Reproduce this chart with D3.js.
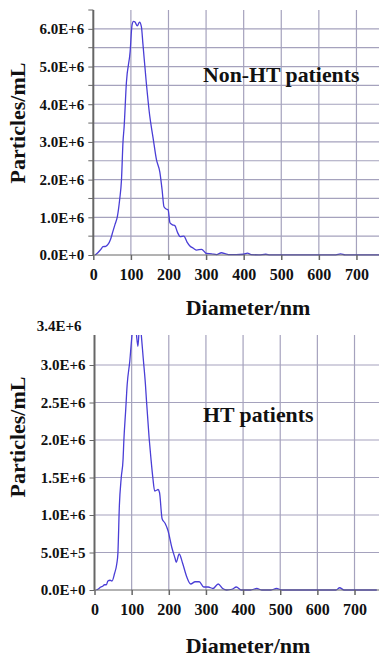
<!DOCTYPE html>
<html lang="en">
<head>
<meta charset="UTF-8">
<title>NTA size distribution</title>
<style>
  body { margin: 0; background: #fff; }
  text { font-family: "Liberation Serif", "Times New Roman", serif; font-weight: bold; fill: #111; }
</style>
</head>
<body>
<svg id="chart" width="379" height="659"></svg>
<script src="https://cdn.jsdelivr.net/npm/d3@7"></script>
<script>
// Non-HT patients: diameter (nm) and concentration (E+6 particles/mL)
var nonHtDiameter = [5, 12, 20, 26, 33, 39, 46, 52, 58, 64, 70, 75, 79, 82, 88, 98, 103, 107, 111, 117, 123, 128, 132, 141, 150, 159, 168, 177, 183, 188, 194, 199, 204, 211, 217, 224, 231, 241, 249, 257, 266, 275, 288, 301, 315, 328, 341, 352, 363, 380, 400, 410, 420, 440, 459, 470, 500, 600, 645, 658, 670, 760];
var nonHtConc = [0, 0.06, 0.15, 0.22, 0.23, 0.28, 0.42, 0.62, 0.82, 1.02, 1.46, 2.0, 3.0, 3.4, 4.57, 5.4, 6.1, 6.2, 6.18, 6.08, 6.18, 6.05, 5.6, 4.57, 3.7, 3.11, 2.53, 2.2, 1.73, 1.28, 1.22, 1.2, 0.85, 0.8, 0.78, 0.6, 0.49, 0.5, 0.35, 0.24, 0.18, 0.13, 0.15, 0.04, 0.03, 0.01, 0.06, 0.03, 0.01, 0.01, 0.02, 0.05, 0.01, 0.005, 0.02, 0.005, 0.005, 0.005, 0.005, 0.03, 0.005, 0.005];

// HT patients
var htDiameter = [5, 12, 17, 22, 27, 32, 36, 42, 47, 54, 60, 63, 67, 72, 77, 79, 84, 88, 95, 101, 107, 112, 117, 122, 126, 131, 137, 140, 147, 152, 157, 162, 167, 171, 175, 182, 190, 198, 208, 217, 220, 228, 237, 248, 259, 271, 282, 294, 306, 319, 333, 345, 356, 370, 382, 395, 420, 437, 450, 475, 490, 505, 650, 660, 672, 760];
var htConc = [0, 0.02, 0.04, 0.05, 0.07, 0.07, 0.12, 0.13, 0.12, 0.22, 0.35, 0.49, 1.13, 1.5, 1.75, 1.99, 2.4, 2.74, 3.05, 3.4, 3.6, 3.45, 3.25, 3.6, 3.4, 3.1, 2.75, 2.52, 2.03, 1.75, 1.5, 1.32, 1.33, 1.34, 1.3, 0.95, 0.89, 0.79, 0.57, 0.42, 0.37, 0.48, 0.36, 0.18, 0.08, 0.11, 0.11, 0.04, 0.04, 0.02, 0.08, 0.02, 0, 0.01, 0.04, 0, 0, 0.02, 0, 0, 0.02, 0, 0, 0.03, 0, 0];

var xTicks = [0, 100, 200, 300, 400, 500, 600, 700];
var nonHtYTicks = [0, 1, 2, 3, 4, 5, 6];
var nonHtYLabels = ["0.0E+0", "1.0E+6", "2.0E+6", "3.0E+6", "4.0E+6", "5.0E+6", "6.0E+6"];
var htYTicks = [0, 0.5, 1, 1.5, 2, 2.5, 3];
var htYLabels = ["0.0E+0", "5.0E+5", "1.0E+6", "1.5E+6", "2.0E+6", "2.5E+6", "3.0E+6"];

var svg = d3.select("#chart");
var gridColor = "#a5a2bd";
var axisColor = "#666";
var lineColor = "#4a3ed6";

function drawPanel(opt) {
  var x = d3.scaleLinear().domain([0, 760]).range([opt.left, opt.right]);
  var y = d3.scaleLinear().domain([0, opt.yMax]).range([opt.bottom, opt.top]);
  var g = svg.append("g");

  // horizontal grid
  g.selectAll("line.hgrid").data(opt.grid).enter().append("line")
    .attr("x1", opt.left).attr("x2", 379)
    .attr("y1", function(d){ return y(d); }).attr("y2", function(d){ return y(d); })
    .attr("stroke", gridColor).attr("stroke-width", 1.2);
  // vertical grid
  g.selectAll("line.vgrid").data(xTicks.slice(1)).enter().append("line")
    .attr("x1", function(d){ return x(d); }).attr("x2", function(d){ return x(d); })
    .attr("y1", opt.top).attr("y2", opt.bottom)
    .attr("stroke", gridColor).attr("stroke-width", 1.2);

  // curve, clipped to the plot
  var clipId = "clip" + opt.id;
  svg.append("clipPath").attr("id", clipId).append("rect")
    .attr("x", opt.left).attr("y", opt.top)
    .attr("width", 379 - opt.left).attr("height", opt.bottom - opt.top + 2);
  var line = d3.line()
    .x(function(d){ return x(d[0]); })
    .y(function(d){ return y(d[1]); })
    .curve(d3.curveMonotoneX);
  g.append("path")
    .datum(d3.zip(opt.xs, opt.ys))
    .attr("clip-path", "url(#" + clipId + ")")
    .attr("d", line)
    .attr("fill", "none").attr("stroke", lineColor).attr("stroke-width", 1.3);

  // axes
  var yAxis = d3.axisLeft(y).tickValues(opt.yTicks)
    .tickFormat(function(d, i){ return opt.yLabels[i]; })
    .tickSize(5).tickPadding(4);
  var ya = g.append("g").attr("transform", "translate(" + opt.left + ",0)").call(yAxis);
  ya.select(".domain").attr("stroke", axisColor).attr("stroke-width", 2).attr("d", "M0," + opt.top + "V" + opt.bottom);
  ya.selectAll(".tick line").attr("stroke", axisColor);
  ya.selectAll(".tick text").style("font-size", "15px").attr("fill", "#111");
  if (opt.minor) {
    g.selectAll("line.minor").data(opt.minor).enter().append("line")
      .attr("x1", opt.left - 5).attr("x2", opt.left)
      .attr("y1", function(d){ return y(d); }).attr("y2", function(d){ return y(d); })
      .attr("stroke", axisColor);
  }

  var xAxis = d3.axisBottom(x).tickValues(xTicks).tickSize(5).tickPadding(9);
  var xa = g.append("g").attr("transform", "translate(0," + opt.bottom + ")").call(xAxis);
  xa.select(".domain").attr("stroke", axisColor).attr("d", "M" + opt.left + ",0H379");
  xa.selectAll(".tick line").attr("stroke", axisColor).attr("stroke-width", 1.5);
  xa.selectAll(".tick text").style("font-size", "16px").attr("fill", "#111");

  // titles
  g.append("text").attr("x", 248).attr("y", opt.xTitleY)
    .attr("text-anchor", "middle").style("font-size", "22px").text("Diameter/nm");
  g.append("text").attr("transform", "translate(25," + opt.yTitleY + ") rotate(-90)")
    .attr("text-anchor", "middle").style("font-size", "22px").text("Particles/mL");
  g.append("text").attr("x", 203).attr("y", opt.labelY)
    .style("font-size", "21.8px").text(opt.label);
}

drawPanel({
  id: 1, left: 93.3, right: 379, top: 10, bottom: 255, yMax: 6.5,
  xs: nonHtDiameter, ys: nonHtConc,
  yTicks: nonHtYTicks, yLabels: nonHtYLabels,
  grid: [0.5, 1, 1.5, 2, 2.5, 3, 3.5, 4, 4.5, 5, 5.5, 6],
  minor: [0.5, 1.5, 2.5, 3.5, 4.5, 5.5, 6.5],
  xTitleY: 315, yTitleY: 123, labelY: 82, label: "Non-HT patients"
});

drawPanel({
  id: 2, left: 94.5, right: 376.8, top: 335, bottom: 590, yMax: 3.4,
  xs: htDiameter, ys: htConc,
  yTicks: htYTicks, yLabels: htYLabels,
  grid: [0.5, 1, 1.5, 2, 2.5, 3],
  minor: null,
  xTitleY: 653, yTitleY: 437, labelY: 422, label: "HT patients"
});

// top label of the HT axis sits above the frame
svg.append("text").attr("x", 81.5).attr("y", 331)
  .attr("text-anchor", "end").style("font-size", "15px").text("3.4E+6");
</script>
</body>
</html>
